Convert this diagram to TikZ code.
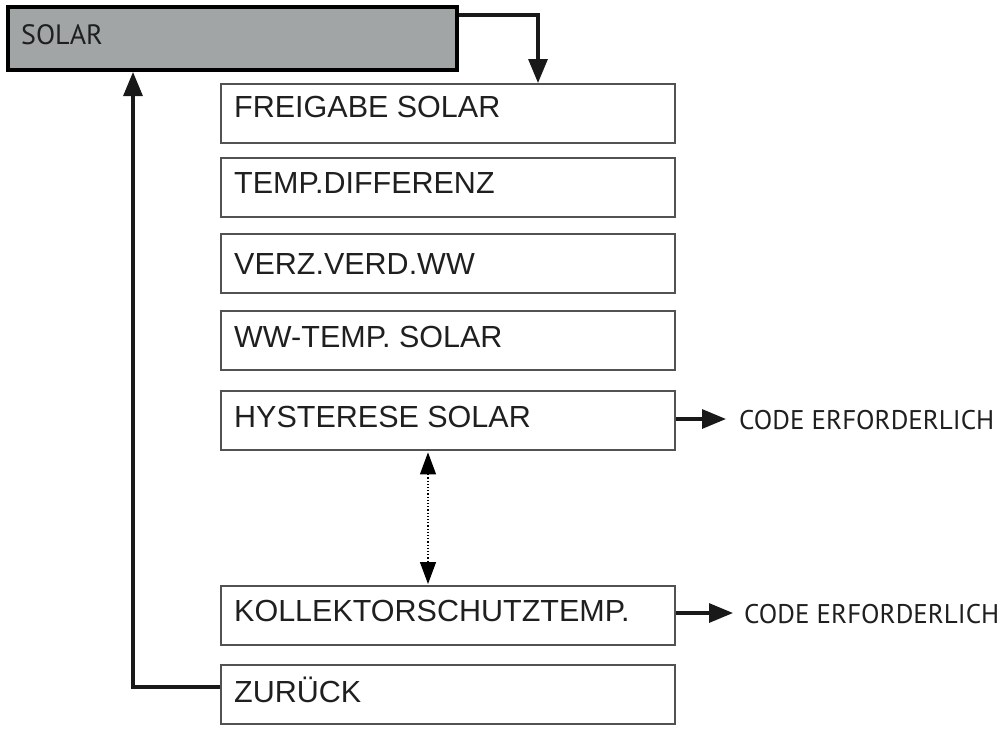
\documentclass[tikz,border=0pt]{standalone}
\usepackage{fontspec}
\setmainfont{Liberation Sans}
\newfontfamily\condfont{PT Sans}
\usetikzlibrary{arrows.meta,calc}
\definecolor{solargray}{RGB}{161,165,166}
\begin{document}
\begin{tikzpicture}[x=1pt,y=-1pt,
  menubox/.style={draw=black!68, line width=2.4pt, minimum width=454pt, minimum height=59pt, inner sep=0pt, anchor=north west},
  menutext/.style={anchor=base west, inner sep=0pt, font=\fontsize{30.5}{32}\selectfont, text=black!88},
  condtext/.style={anchor=base west, inner sep=0pt, font=\condfont\fontsize{27}{29}\selectfont, text=black!88},
  conn/.style={line width=3.2pt, draw=black!90},
  tip/.style={-{Triangle[length=24pt,width=19pt]}},
  dotarrow/.style={line width=1.2pt, dotted, {Triangle[length=22pt,width=16pt]}-{Triangle[length=22pt,width=16pt]}}
]
\useasboundingbox (0,0) rectangle (1000,731);

% header box
\node[draw=black, line width=4pt, fill=solargray, minimum width=449pt, minimum height=63pt, inner sep=0pt, anchor=north west] (solar) at (6,5) {};
\node[condtext, font=\condfont\fontsize{28}{30}\selectfont] (solart) at (21,44) {SOLAR};

% menu boxes
\node[menubox] (b1) at (220,83) {};
\node[menubox] (b2) at (220,157) {};
\node[menubox] (b3) at (220,233) {};
\node[menubox] (b4) at (220,310) {};
\node[menubox] (b5) at (220,390) {};
\node[menubox] (b6) at (220,585) {};
\node[menubox] (b7) at (220,664) {};

\node[menutext] (t1) at ($(b1.north west)+(14,34)$) {FREIGABE SOLAR};
\node[menutext] (t2) at ($(b2.north west)+(14,36)$) {TEMP.DIFFERENZ};
\node[menutext] (t3) at ($(b3.north west)+(14,41)$) {VERZ.VERD.WW};
\node[menutext] (t4) at ($(b4.north west)+(14,37)$) {WW-TEMP. SOLAR};
\node[menutext] (t5) at ($(b5.north west)+(14,37)$) {HYSTERESE SOLAR};
\node[menutext] (t6) at ($(b6.north west)+(14,36)$) {KOLLEKTORSCHUTZTEMP.};
\node[menutext] (t7) at ($(b7.north west)+(14,38)$) {ZURÜCK};

% code labels
\node[condtext] (c1) at (739,429) {CODE ERFORDERLICH};
\node[condtext] (c2) at (744,623) {CODE ERFORDERLICH};

% connectors
\coordinate (s1) at ($(solar.north east)+(0,10)$);
\draw[conn,tip] (s1) -| ($(b1.north west)+(318,0)$);
\draw[conn,tip] (b7.west |- 0,687) -| (solar.south west -| 133,0);
\draw[conn,tip] (b5.east |- 0,419) -- ($(c1.west |- 0,419)+(-13,0)$);
\draw[conn,tip] (b6.east |- 0,613) -- ($(c2.west |- 0,613)+(-11,0)$);
\draw[dotarrow] ($(b5.south west)+(208,1)$) -- ($(b6.north west)+(208,-1)$);
\end{tikzpicture}
\end{document}
